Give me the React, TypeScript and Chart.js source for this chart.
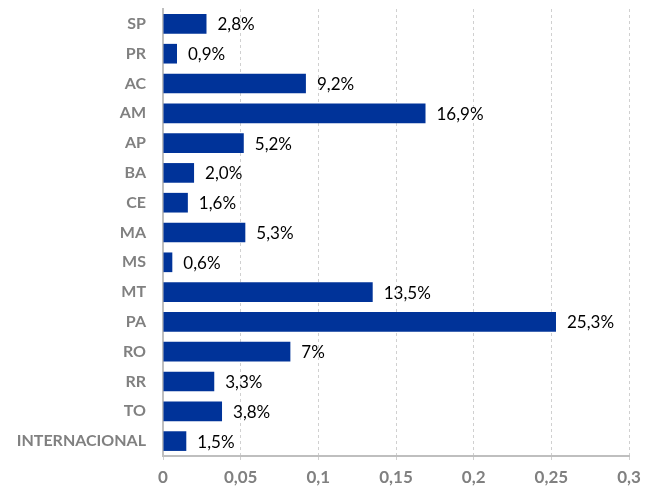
import React, { useEffect, useRef } from "react";
import { Chart, registerables } from "chart.js";

Chart.register(...registerables);

const categories = ["SP", "PR", "AC", "AM", "AP", "BA", "CE", "MA", "MS", "MT", "PA", "RO", "RR", "TO", "INTERNACIONAL"];
const values = [0.028, 0.009, 0.092, 0.169, 0.052, 0.02, 0.016, 0.053, 0.006, 0.135, 0.253, 0.082, 0.033, 0.038, 0.015];
const valueLabels = ["2,8%", "0,9%", "9,2%", "16,9%", "5,2%", "2,0%", "1,6%", "5,3%", "0,6%", "13,5%", "25,3%", "7%", "3,3%", "3,8%", "1,5%"];
const xTickLabels = ["0", "0,05", "0,1", "0,15", "0,2", "0,25", "0,3"];

const FONT = "Lato, 'Open Sans', sans-serif";

const labelPlugin = {
  id: "valueLabels",
  afterDatasetsDraw(chart: any) {
    const ctx = chart.ctx;
    const meta = chart.getDatasetMeta(0);
    ctx.save();
    ctx.font = `17px ${FONT}`;
    ctx.fillStyle = "#000000";
    ctx.textAlign = "left";
    ctx.textBaseline = "middle";
    meta.data.forEach((bar: any, i: number) => {
      ctx.fillText(valueLabels[i], bar.x + 11, bar.y + 1);
    });
    ctx.restore();
  },
};

export default function App() {
  const ref = useRef<HTMLCanvasElement | null>(null);
  useEffect(() => {
    if (!ref.current) return;
    const chart = new Chart(ref.current, {
      type: "bar",
      data: {
        labels: categories,
        datasets: [
          {
            data: values,
            backgroundColor: "#003399",
            borderWidth: 0,
            barPercentage: 0.66,
            categoryPercentage: 1,
          },
        ],
      },
      options: {
        indexAxis: "y",
        animation: false,
        responsive: false,
        maintainAspectRatio: false,
        layout: { padding: { top: 9, right: 26, left: 0, bottom: 0 } },
        plugins: { legend: { display: false }, tooltip: { enabled: false } },
        scales: {
          x: {
            min: 0,
            max: 0.3,
            ticks: {
              stepSize: 0.05,
              color: "#808080",
              font: { family: FONT, size: 17, weight: "bold" },
              padding: 5,
              callback: (_v: any, i: number) => xTickLabels[i],
            },
            grid: {
              color: "#d0d0d0",
              lineWidth: 1,
              tickLength: 6,
              drawTicks: true,
              tickBorderDash: [3, 3],
            },
            border: { display: true, color: "#bfbfbf", width: 2, dash: [3, 3] },
            afterFit: (scale: any) => {
              scale.height = 32;
              scale.paddingLeft = 0;
              scale.paddingRight = 0;
            },
          },
          y: {
            ticks: {
              color: "#808080",
              font: { family: FONT, size: 16, weight: "bold" },
              padding: 17,
              autoSkip: false,
            },
            grid: { display: false, drawTicks: false },
            border: { display: true, color: "#bfbfbf", width: 2 },
            afterFit: (scale: any) => {
              scale.width = 163;
              scale.paddingTop = 0;
              scale.paddingBottom = 0;
            },
          },
        },
      },
      plugins: [labelPlugin],
    } as any);
    return () => chart.destroy();
  }, []);
  return (
    <div style={{ position: "fixed", left: 0, top: 0, width: 655, height: 488, background: "#fff" }}>
      <canvas ref={ref} width={655} height={488} style={{ display: "block" }} />
    </div>
  );
}
